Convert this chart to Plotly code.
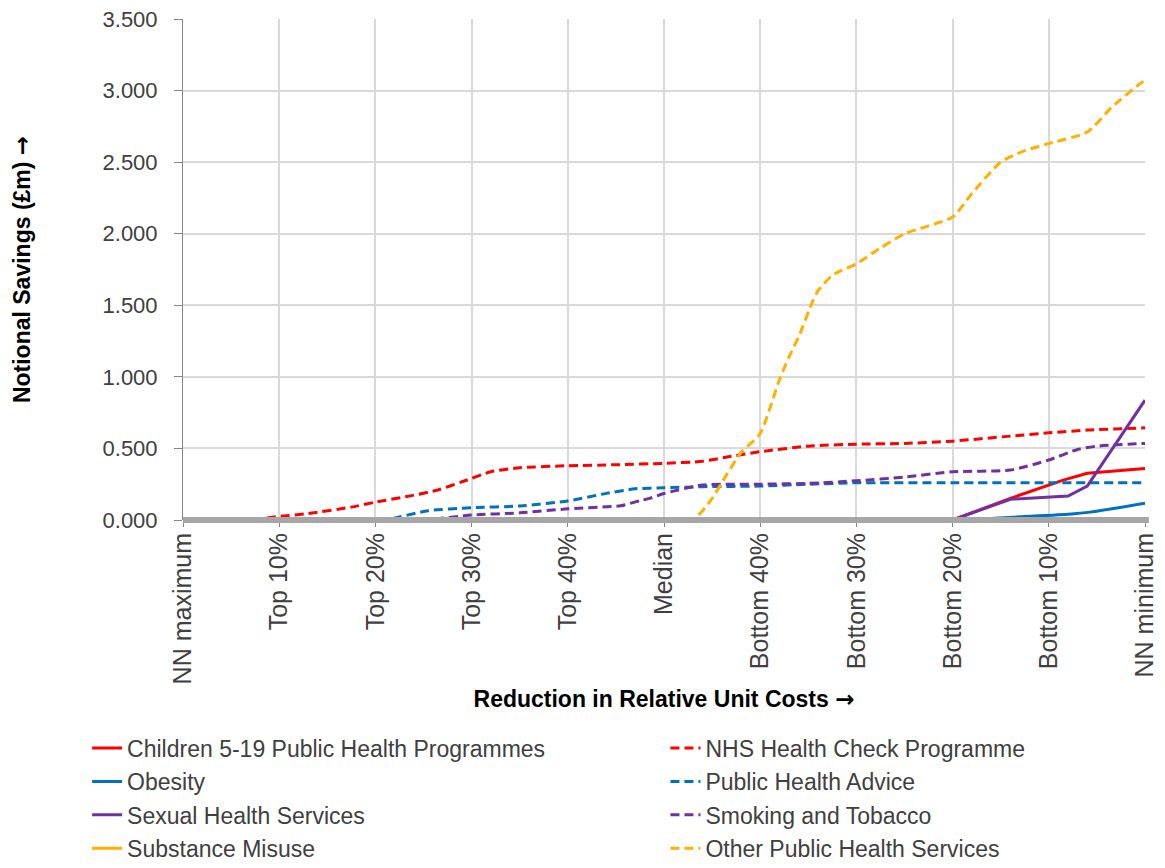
import plotly.graph_objects as go

# Axis categories (x positions 0..100 from NN maximum to NN minimum)
tick_pos = [0, 10, 20, 30, 40, 50, 60, 70, 80, 90, 100]
tick_labels = ["NN maximum", "Top 10%", "Top 20%", "Top 30%", "Top 40%", "Median",
               "Bottom 40%", "Bottom 30%", "Bottom 20%", "Bottom 10%", "NN minimum"]

children_x = [0, 80, 86, 91.5, 94, 100]
children_y = [0, 0, 0.151, 0.279, 0.326, 0.36]

nhs_x = [0, 7, 10, 13, 17.5, 20, 23.5, 26.5, 29, 32, 35, 40, 45, 50, 54, 57, 60, 65, 70, 75, 80, 86, 90, 94, 100]
nhs_y = [0, 0, 0.025, 0.045, 0.09, 0.125, 0.167, 0.21, 0.267, 0.337, 0.365, 0.379, 0.386, 0.396,
         0.41, 0.445, 0.477, 0.516, 0.53, 0.535, 0.551, 0.586, 0.609, 0.628, 0.644]

obesity_x = [0, 80, 87, 92, 94.3, 100]
obesity_y = [0, 0, 0.022, 0.04, 0.055, 0.118]

pha_x = [0, 20, 21, 25.5, 30, 35, 40, 44, 47, 50, 54, 60, 65, 70, 80, 90, 100]
pha_y = [0, 0, 0, 0.065, 0.086, 0.098, 0.133, 0.186, 0.218, 0.225, 0.233, 0.237, 0.25, 0.26, 0.26, 0.26, 0.26]

sexual_x = [0, 80, 86, 92, 94, 100]
sexual_y = [0, 0, 0.145, 0.167, 0.237, 0.837]

smoking_x = [0, 25, 30, 35, 40, 45.5, 47.5, 48.5, 50, 54, 60, 65, 70, 75, 80, 86, 90, 93, 95, 100]
smoking_y = [0, 0, 0.035, 0.05, 0.078, 0.1, 0.135, 0.151, 0.185, 0.244, 0.25, 0.256, 0.274, 0.30,
             0.337, 0.349, 0.419, 0.493, 0.516, 0.535]

substance_x = [0, 100]
substance_y = [0, 0]

other_x = [0, 50, 53, 55, 56, 58, 60, 62, 63, 64, 65.5, 66, 67.5, 68.5, 70, 72.5, 75, 80, 82, 85,
           87.5, 90, 94, 96.5, 99.5, 100]
other_y = [0, 0, 0, 0.15, 0.26, 0.47, 0.605, 0.98, 1.14, 1.28, 1.535, 1.6, 1.71, 1.745, 1.79, 1.9,
           2.0, 2.117, 2.28, 2.5, 2.58, 2.63, 2.71, 2.88, 3.05, 3.07]

RED = "#FF0000"
BLUE = "#0070C0"
PURPLE = "#7030A0"
ORANGE = "#FFB000"
DASH = "9px,5px"

# name, x, y, colour, dash, shape, legend column
series = [
    ("Children 5-19 Public Health Programmes", children_x, children_y, RED, "solid", "linear", "legend"),
    ("NHS Health Check Programme", nhs_x, nhs_y, RED, DASH, "spline", "legend2"),
    ("Obesity", obesity_x, obesity_y, BLUE, "solid", "spline", "legend"),
    ("Public Health Advice", pha_x, pha_y, BLUE, DASH, "spline", "legend2"),
    ("Sexual Health Services", sexual_x, sexual_y, PURPLE, "solid", "linear", "legend"),
    ("Smoking and Tobacco", smoking_x, smoking_y, PURPLE, DASH, "spline", "legend2"),
    ("Substance Misuse", substance_x, substance_y, ORANGE, "solid", "linear", "legend"),
    ("Other Public Health Services", other_x, other_y, ORANGE, DASH, "spline", "legend2"),
]

FONT = "Liberation Sans, Arial, sans-serif"
TXT = "#404040"
ARROW = "<span style='font-family:DejaVu Sans'>→</span>"

fig = go.Figure()
for i, (name, xs, ys, col, dash, shape, leg) in enumerate(series):
    fig.add_trace(go.Scatter(
        x=xs, y=ys, name=name, mode="lines", legend=leg, legendgroup="g%d" % i,
        line=dict(color=col, width=3, dash=dash, shape=shape,
                  smoothing=0.6 if shape == "spline" else None),
        hoverinfo="name+y",
    ))

# thick grey category axis line along the bottom of the plot, drawn over the zero values
fig.add_shape(type="line", xref="paper", yref="paper", x0=0, x1=1.004, y0=0, y1=0,
              line=dict(color="#A6A6A6", width=6), layer="above")

legend_common = dict(
    orientation="v", yref="container", y=0.1645, yanchor="top", xanchor="left",
    font=dict(family=FONT, size=23, color=TXT), bgcolor="rgba(0,0,0,0)",
    tracegroupgap=0.5, traceorder="grouped",
)

# the page adds an 8 px body margin, so the figure is 8 px smaller on each axis
fig.update_layout(
    width=1157, height=860,
    margin=dict(l=175, r=20, t=11, b=348),
    paper_bgcolor="white", plot_bgcolor="white",
    font=dict(family=FONT, size=22, color=TXT),
    showlegend=True,
    legend=dict(x=-0.0997, **legend_common),
    legend2=dict(x=0.5015, **legend_common),
)

fig.update_xaxes(
    range=[0, 100], tickmode="array", tickvals=tick_pos, ticktext=tick_labels,
    tickangle=-90, showgrid=True, gridcolor="#D9D9D9", gridwidth=1.5,
    showline=False, automargin=False,
    ticks="outside", ticklen=6, tickcolor="#868686", tickwidth=1,
    ticklabelstandoff=-4, ticklabeloverflow="allow",
    zeroline=False,
    tickfont=dict(family=FONT, size=25, color=TXT),
    title=dict(text="<b>Reduction in Relative Unit Costs " + ARROW + "</b>", standoff=7,
               font=dict(family=FONT, size=23, color="#000000")),
)
fig.update_yaxes(
    range=[0, 3.5], dtick=0.5, tickformat=".3f", automargin=False,
    showgrid=True, gridcolor="#D9D9D9", gridwidth=1.5,
    showline=True, linecolor="#868686", linewidth=1,
    ticks="outside", ticklen=8, tickcolor="#868686", ticklabelstandoff=12,
    ticklabeloverflow="allow",
    zeroline=False,
    tickfont=dict(family=FONT, size=22, color=TXT),
    title=dict(text="<b>Notional Savings (£m) " + ARROW + "</b>", standoff=65,
               font=dict(family=FONT, size=23, color="#000000")),
)

fig.write_html("out.html")
